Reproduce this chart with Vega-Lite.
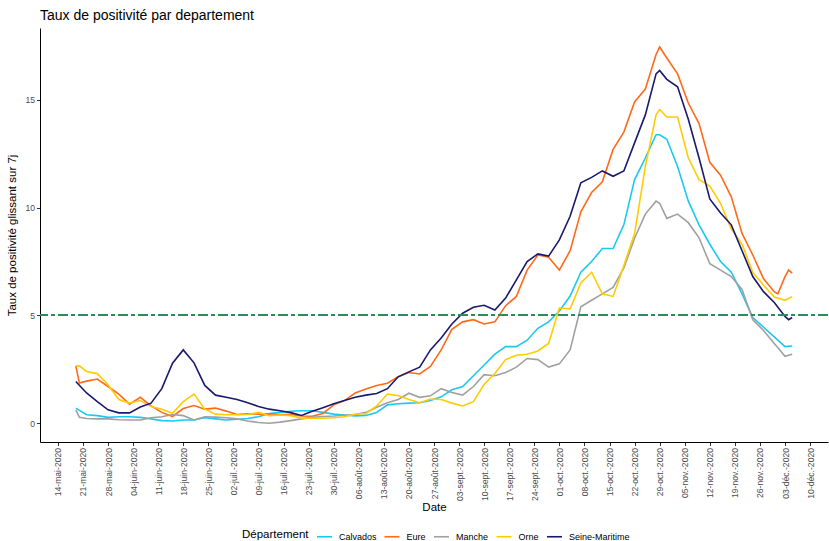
{
  "$schema": "https://vega.github.io/schema/vega-lite/v6.json",
  "width": 788,
  "height": 414,
  "autosize": "none",
  "padding": {"left": 40, "top": 28, "right": 1, "bottom": 99},
  "title": {"text": "Taux de positivité par departement", "anchor": "start", "frame": "group", "fontSize": 14, "fontWeight": "normal", "color": "#000000", "offset": 5, "font": "Liberation Sans"},
  "config": {
    "font": "Liberation Sans",
    "view": {"stroke": null},
    "locale": {"time": {
      "dateTime": "%A %e %B %Y à %X", "date": "%d/%m/%Y", "time": "%H:%M:%S", "periods": ["AM", "PM"],
      "days": ["dimanche", "lundi", "mardi", "mercredi", "jeudi", "vendredi", "samedi"],
      "shortDays": ["dim.", "lun.", "mar.", "mer.", "jeu.", "ven.", "sam."],
      "months": ["janvier", "février", "mars", "avril", "mai", "juin", "juillet", "août", "septembre", "octobre", "novembre", "décembre"],
      "shortMonths": ["janv.", "févr.", "mars", "avr.", "mai", "juin", "juil.", "août", "sept.", "oct.", "nov.", "déc."]
    }}
  },
  "data": {"values": [
    {"date":"2020-05-19","dep":"Calvados","v":0.70},{"date":"2020-05-19","dep":"Eure","v":2.66},{"date":"2020-05-19","dep":"Manche","v":0.62},{"date":"2020-05-19","dep":"Orne","v":2.66},{"date":"2020-05-19","dep":"Seine-Maritime","v":1.93},
    {"date":"2020-05-20","dep":"Eure","v":1.86},{"date":"2020-05-20","dep":"Orne","v":2.66},{"date":"2020-05-20","dep":"Manche","v":0.27},
    {"date":"2020-05-22","dep":"Calvados","v":0.39},{"date":"2020-05-22","dep":"Eure","v":1.95},{"date":"2020-05-22","dep":"Manche","v":0.22},{"date":"2020-05-22","dep":"Orne","v":2.40},{"date":"2020-05-22","dep":"Seine-Maritime","v":1.40},
    {"date":"2020-05-25","dep":"Calvados","v":0.35},{"date":"2020-05-25","dep":"Eure","v":2.05},{"date":"2020-05-25","dep":"Manche","v":0.20},{"date":"2020-05-25","dep":"Orne","v":2.30},{"date":"2020-05-25","dep":"Seine-Maritime","v":1.00},
    {"date":"2020-05-28","dep":"Calvados","v":0.27},{"date":"2020-05-28","dep":"Eure","v":1.70},{"date":"2020-05-28","dep":"Manche","v":0.20},{"date":"2020-05-28","dep":"Orne","v":1.78},{"date":"2020-05-28","dep":"Seine-Maritime","v":0.62},
    {"date":"2020-05-31","dep":"Calvados","v":0.30},{"date":"2020-05-31","dep":"Eure","v":1.35},{"date":"2020-05-31","dep":"Manche","v":0.16},{"date":"2020-05-31","dep":"Orne","v":1.10},{"date":"2020-05-31","dep":"Seine-Maritime","v":0.48},
    {"date":"2020-06-03","dep":"Calvados","v":0.30},{"date":"2020-06-03","dep":"Eure","v":0.88},{"date":"2020-06-03","dep":"Manche","v":0.15},{"date":"2020-06-03","dep":"Orne","v":0.93},{"date":"2020-06-03","dep":"Seine-Maritime","v":0.48},
    {"date":"2020-06-06","dep":"Calvados","v":0.27},{"date":"2020-06-06","dep":"Eure","v":1.20},{"date":"2020-06-06","dep":"Manche","v":0.15},{"date":"2020-06-06","dep":"Orne","v":1.05},{"date":"2020-06-06","dep":"Seine-Maritime","v":0.75},
    {"date":"2020-06-09","dep":"Calvados","v":0.20},{"date":"2020-06-09","dep":"Eure","v":0.80},{"date":"2020-06-09","dep":"Manche","v":0.25},{"date":"2020-06-09","dep":"Orne","v":0.77},{"date":"2020-06-09","dep":"Seine-Maritime","v":0.93},
    {"date":"2020-06-12","dep":"Calvados","v":0.12},{"date":"2020-06-12","dep":"Eure","v":0.50},{"date":"2020-06-12","dep":"Manche","v":0.30},{"date":"2020-06-12","dep":"Orne","v":0.65},{"date":"2020-06-12","dep":"Seine-Maritime","v":1.60},
    {"date":"2020-06-15","dep":"Calvados","v":0.10},{"date":"2020-06-15","dep":"Eure","v":0.31},{"date":"2020-06-15","dep":"Manche","v":0.40},{"date":"2020-06-15","dep":"Orne","v":0.46},{"date":"2020-06-15","dep":"Seine-Maritime","v":2.78},
    {"date":"2020-06-18","dep":"Calvados","v":0.15},{"date":"2020-06-18","dep":"Eure","v":0.68},{"date":"2020-06-18","dep":"Manche","v":0.35},{"date":"2020-06-18","dep":"Orne","v":1.00},{"date":"2020-06-18","dep":"Seine-Maritime","v":3.40},
    {"date":"2020-06-21","dep":"Calvados","v":0.15},{"date":"2020-06-21","dep":"Eure","v":0.82},{"date":"2020-06-21","dep":"Manche","v":0.15},{"date":"2020-06-21","dep":"Orne","v":1.35},{"date":"2020-06-21","dep":"Seine-Maritime","v":2.80},
    {"date":"2020-06-24","dep":"Calvados","v":0.25},{"date":"2020-06-24","dep":"Eure","v":0.65},{"date":"2020-06-24","dep":"Manche","v":0.30},{"date":"2020-06-24","dep":"Orne","v":0.65},{"date":"2020-06-24","dep":"Seine-Maritime","v":1.75},
    {"date":"2020-06-27","dep":"Calvados","v":0.20},{"date":"2020-06-27","dep":"Eure","v":0.70},{"date":"2020-06-27","dep":"Manche","v":0.28},{"date":"2020-06-27","dep":"Orne","v":0.42},{"date":"2020-06-27","dep":"Seine-Maritime","v":1.30},
    {"date":"2020-06-30","dep":"Calvados","v":0.15},{"date":"2020-06-30","dep":"Eure","v":0.56},{"date":"2020-06-30","dep":"Manche","v":0.25},{"date":"2020-06-30","dep":"Orne","v":0.39},{"date":"2020-06-30","dep":"Seine-Maritime","v":1.20},
    {"date":"2020-07-03","dep":"Calvados","v":0.18},{"date":"2020-07-03","dep":"Eure","v":0.40},{"date":"2020-07-03","dep":"Manche","v":0.20},{"date":"2020-07-03","dep":"Orne","v":0.39},{"date":"2020-07-03","dep":"Seine-Maritime","v":1.10},
    {"date":"2020-07-06","dep":"Calvados","v":0.22},{"date":"2020-07-06","dep":"Eure","v":0.43},{"date":"2020-07-06","dep":"Manche","v":0.10},{"date":"2020-07-06","dep":"Orne","v":0.40},{"date":"2020-07-06","dep":"Seine-Maritime","v":0.95},
    {"date":"2020-07-09","dep":"Calvados","v":0.30},{"date":"2020-07-09","dep":"Eure","v":0.42},{"date":"2020-07-09","dep":"Manche","v":0.03},{"date":"2020-07-09","dep":"Orne","v":0.50},{"date":"2020-07-09","dep":"Seine-Maritime","v":0.77},
    {"date":"2020-07-12","dep":"Calvados","v":0.45},{"date":"2020-07-12","dep":"Eure","v":0.43},{"date":"2020-07-12","dep":"Manche","v":0.00},{"date":"2020-07-12","dep":"Orne","v":0.35},{"date":"2020-07-12","dep":"Seine-Maritime","v":0.65},
    {"date":"2020-07-15","dep":"Calvados","v":0.50},{"date":"2020-07-15","dep":"Eure","v":0.40},{"date":"2020-07-15","dep":"Manche","v":0.05},{"date":"2020-07-15","dep":"Orne","v":0.38},{"date":"2020-07-15","dep":"Seine-Maritime","v":0.58},
    {"date":"2020-07-18","dep":"Calvados","v":0.55},{"date":"2020-07-18","dep":"Eure","v":0.40},{"date":"2020-07-18","dep":"Manche","v":0.12},{"date":"2020-07-18","dep":"Orne","v":0.35},{"date":"2020-07-18","dep":"Seine-Maritime","v":0.49},
    {"date":"2020-07-21","dep":"Calvados","v":0.58},{"date":"2020-07-21","dep":"Eure","v":0.33},{"date":"2020-07-21","dep":"Manche","v":0.20},{"date":"2020-07-21","dep":"Orne","v":0.23},{"date":"2020-07-21","dep":"Seine-Maritime","v":0.36},
    {"date":"2020-07-24","dep":"Calvados","v":0.58},{"date":"2020-07-24","dep":"Eure","v":0.32},{"date":"2020-07-24","dep":"Manche","v":0.27},{"date":"2020-07-24","dep":"Orne","v":0.23},{"date":"2020-07-24","dep":"Seine-Maritime","v":0.55},
    {"date":"2020-07-27","dep":"Calvados","v":0.50},{"date":"2020-07-27","dep":"Eure","v":0.45},{"date":"2020-07-27","dep":"Manche","v":0.31},{"date":"2020-07-27","dep":"Orne","v":0.23},{"date":"2020-07-27","dep":"Seine-Maritime","v":0.72},
    {"date":"2020-07-30","dep":"Calvados","v":0.42},{"date":"2020-07-30","dep":"Eure","v":0.85},{"date":"2020-07-30","dep":"Manche","v":0.33},{"date":"2020-07-30","dep":"Orne","v":0.25},{"date":"2020-07-30","dep":"Seine-Maritime","v":0.90},
    {"date":"2020-08-02","dep":"Calvados","v":0.38},{"date":"2020-08-02","dep":"Eure","v":1.05},{"date":"2020-08-02","dep":"Manche","v":0.37},{"date":"2020-08-02","dep":"Orne","v":0.30},{"date":"2020-08-02","dep":"Seine-Maritime","v":1.05},
    {"date":"2020-08-05","dep":"Calvados","v":0.34},{"date":"2020-08-05","dep":"Eure","v":1.40},{"date":"2020-08-05","dep":"Manche","v":0.40},{"date":"2020-08-05","dep":"Orne","v":0.42},{"date":"2020-08-05","dep":"Seine-Maritime","v":1.20},
    {"date":"2020-08-08","dep":"Calvados","v":0.36},{"date":"2020-08-08","dep":"Eure","v":1.58},{"date":"2020-08-08","dep":"Manche","v":0.50},{"date":"2020-08-08","dep":"Orne","v":0.45},{"date":"2020-08-08","dep":"Seine-Maritime","v":1.30},
    {"date":"2020-08-11","dep":"Calvados","v":0.50},{"date":"2020-08-11","dep":"Eure","v":1.75},{"date":"2020-08-11","dep":"Manche","v":0.74},{"date":"2020-08-11","dep":"Orne","v":0.80},{"date":"2020-08-11","dep":"Seine-Maritime","v":1.38},
    {"date":"2020-08-14","dep":"Calvados","v":0.85},{"date":"2020-08-14","dep":"Eure","v":1.85},{"date":"2020-08-14","dep":"Manche","v":0.95},{"date":"2020-08-14","dep":"Orne","v":1.35},{"date":"2020-08-14","dep":"Seine-Maritime","v":1.60},
    {"date":"2020-08-17","dep":"Calvados","v":0.90},{"date":"2020-08-17","dep":"Eure","v":2.15},{"date":"2020-08-17","dep":"Manche","v":1.10},{"date":"2020-08-17","dep":"Orne","v":1.28},{"date":"2020-08-17","dep":"Seine-Maritime","v":2.15},
    {"date":"2020-08-20","dep":"Calvados","v":0.93},{"date":"2020-08-20","dep":"Eure","v":2.35},{"date":"2020-08-20","dep":"Manche","v":1.39},{"date":"2020-08-20","dep":"Orne","v":1.10},{"date":"2020-08-20","dep":"Seine-Maritime","v":2.38},
    {"date":"2020-08-23","dep":"Calvados","v":0.95},{"date":"2020-08-23","dep":"Eure","v":2.28},{"date":"2020-08-23","dep":"Manche","v":1.20},{"date":"2020-08-23","dep":"Orne","v":0.95},{"date":"2020-08-23","dep":"Seine-Maritime","v":2.60},
    {"date":"2020-08-26","dep":"Calvados","v":1.05},{"date":"2020-08-26","dep":"Eure","v":2.63},{"date":"2020-08-26","dep":"Manche","v":1.27},{"date":"2020-08-26","dep":"Orne","v":1.12},{"date":"2020-08-26","dep":"Seine-Maritime","v":3.40},
    {"date":"2020-08-29","dep":"Calvados","v":1.22},{"date":"2020-08-29","dep":"Eure","v":3.40},{"date":"2020-08-29","dep":"Manche","v":1.60},{"date":"2020-08-29","dep":"Orne","v":1.10},{"date":"2020-08-29","dep":"Seine-Maritime","v":3.95},
    {"date":"2020-09-01","dep":"Calvados","v":1.55},{"date":"2020-09-01","dep":"Eure","v":4.35},{"date":"2020-09-01","dep":"Manche","v":1.42},{"date":"2020-09-01","dep":"Orne","v":0.93},{"date":"2020-09-01","dep":"Seine-Maritime","v":4.60},
    {"date":"2020-09-04","dep":"Calvados","v":1.70},{"date":"2020-09-04","dep":"Eure","v":4.70},{"date":"2020-09-04","dep":"Manche","v":1.30},{"date":"2020-09-04","dep":"Orne","v":0.80},{"date":"2020-09-04","dep":"Seine-Maritime","v":5.10},
    {"date":"2020-09-07","dep":"Calvados","v":2.20},{"date":"2020-09-07","dep":"Eure","v":4.80},{"date":"2020-09-07","dep":"Manche","v":1.70},{"date":"2020-09-07","dep":"Orne","v":1.00},{"date":"2020-09-07","dep":"Seine-Maritime","v":5.38},
    {"date":"2020-09-10","dep":"Calvados","v":2.70},{"date":"2020-09-10","dep":"Eure","v":4.60},{"date":"2020-09-10","dep":"Manche","v":2.25},{"date":"2020-09-10","dep":"Orne","v":1.80},{"date":"2020-09-10","dep":"Seine-Maritime","v":5.47},
    {"date":"2020-09-13","dep":"Calvados","v":3.20},{"date":"2020-09-13","dep":"Eure","v":4.70},{"date":"2020-09-13","dep":"Manche","v":2.20},{"date":"2020-09-13","dep":"Orne","v":2.30},{"date":"2020-09-13","dep":"Seine-Maritime","v":5.25},
    {"date":"2020-09-16","dep":"Calvados","v":3.55},{"date":"2020-09-16","dep":"Eure","v":5.45},{"date":"2020-09-16","dep":"Manche","v":2.35},{"date":"2020-09-16","dep":"Orne","v":2.95},{"date":"2020-09-16","dep":"Seine-Maritime","v":5.80},
    {"date":"2020-09-19","dep":"Calvados","v":3.55},{"date":"2020-09-19","dep":"Eure","v":5.88},{"date":"2020-09-19","dep":"Manche","v":2.60},{"date":"2020-09-19","dep":"Orne","v":3.15},{"date":"2020-09-19","dep":"Seine-Maritime","v":6.65},
    {"date":"2020-09-22","dep":"Calvados","v":3.85},{"date":"2020-09-22","dep":"Eure","v":7.10},{"date":"2020-09-22","dep":"Manche","v":3.00},{"date":"2020-09-22","dep":"Orne","v":3.20},{"date":"2020-09-22","dep":"Seine-Maritime","v":7.50},
    {"date":"2020-09-25","dep":"Calvados","v":4.40},{"date":"2020-09-25","dep":"Eure","v":7.80},{"date":"2020-09-25","dep":"Manche","v":2.95},{"date":"2020-09-25","dep":"Orne","v":3.35},{"date":"2020-09-25","dep":"Seine-Maritime","v":7.85},
    {"date":"2020-09-28","dep":"Calvados","v":4.70},{"date":"2020-09-28","dep":"Eure","v":7.70},{"date":"2020-09-28","dep":"Manche","v":2.60},{"date":"2020-09-28","dep":"Orne","v":3.70},{"date":"2020-09-28","dep":"Seine-Maritime","v":7.75},
    {"date":"2020-10-01","dep":"Calvados","v":5.20},{"date":"2020-10-01","dep":"Eure","v":7.10},{"date":"2020-10-01","dep":"Manche","v":2.75},{"date":"2020-10-01","dep":"Orne","v":5.34},{"date":"2020-10-01","dep":"Seine-Maritime","v":8.50},
    {"date":"2020-10-04","dep":"Calvados","v":5.90},{"date":"2020-10-04","dep":"Eure","v":8.00},{"date":"2020-10-04","dep":"Manche","v":3.40},{"date":"2020-10-04","dep":"Orne","v":5.30},{"date":"2020-10-04","dep":"Seine-Maritime","v":9.60},
    {"date":"2020-10-07","dep":"Calvados","v":7.00},{"date":"2020-10-07","dep":"Eure","v":9.80},{"date":"2020-10-07","dep":"Manche","v":5.40},{"date":"2020-10-07","dep":"Orne","v":6.50},{"date":"2020-10-07","dep":"Seine-Maritime","v":11.15},
    {"date":"2020-10-10","dep":"Calvados","v":7.50},{"date":"2020-10-10","dep":"Eure","v":10.70},{"date":"2020-10-10","dep":"Manche","v":5.70},{"date":"2020-10-10","dep":"Orne","v":7.00},{"date":"2020-10-10","dep":"Seine-Maritime","v":11.40},
    {"date":"2020-10-13","dep":"Calvados","v":8.10},{"date":"2020-10-13","dep":"Eure","v":11.20},{"date":"2020-10-13","dep":"Manche","v":6.00},{"date":"2020-10-13","dep":"Orne","v":6.00},{"date":"2020-10-13","dep":"Seine-Maritime","v":11.70},
    {"date":"2020-10-16","dep":"Calvados","v":8.10},{"date":"2020-10-16","dep":"Eure","v":12.70},{"date":"2020-10-16","dep":"Manche","v":6.30},{"date":"2020-10-16","dep":"Orne","v":5.88},{"date":"2020-10-16","dep":"Seine-Maritime","v":11.45},
    {"date":"2020-10-19","dep":"Calvados","v":9.20},{"date":"2020-10-19","dep":"Eure","v":13.50},{"date":"2020-10-19","dep":"Manche","v":7.20},{"date":"2020-10-19","dep":"Orne","v":7.30},{"date":"2020-10-19","dep":"Seine-Maritime","v":11.70},
    {"date":"2020-10-22","dep":"Calvados","v":11.30},{"date":"2020-10-22","dep":"Eure","v":14.90},{"date":"2020-10-22","dep":"Manche","v":8.58},{"date":"2020-10-22","dep":"Orne","v":8.80},{"date":"2020-10-22","dep":"Seine-Maritime","v":13.00},
    {"date":"2020-10-25","dep":"Calvados","v":12.30},{"date":"2020-10-25","dep":"Eure","v":15.50},{"date":"2020-10-25","dep":"Manche","v":9.70},{"date":"2020-10-25","dep":"Orne","v":11.90},{"date":"2020-10-25","dep":"Seine-Maritime","v":14.30},
    {"date":"2020-10-28","dep":"Calvados","v":13.38},{"date":"2020-10-28","dep":"Eure","v":17.10},{"date":"2020-10-28","dep":"Manche","v":10.30},{"date":"2020-10-28","dep":"Orne","v":14.30},{"date":"2020-10-28","dep":"Seine-Maritime","v":16.20},
    {"date":"2020-10-29","dep":"Calvados","v":13.38},{"date":"2020-10-29","dep":"Eure","v":17.45},{"date":"2020-10-29","dep":"Manche","v":10.20},{"date":"2020-10-29","dep":"Orne","v":14.55},{"date":"2020-10-29","dep":"Seine-Maritime","v":16.36},
    {"date":"2020-10-31","dep":"Calvados","v":13.17},{"date":"2020-10-31","dep":"Eure","v":16.94},{"date":"2020-10-31","dep":"Manche","v":9.50},{"date":"2020-10-31","dep":"Orne","v":14.20},{"date":"2020-10-31","dep":"Seine-Maritime","v":15.95},
    {"date":"2020-11-03","dep":"Calvados","v":11.91},{"date":"2020-11-03","dep":"Eure","v":16.20},{"date":"2020-11-03","dep":"Manche","v":9.70},{"date":"2020-11-03","dep":"Orne","v":14.20},{"date":"2020-11-03","dep":"Seine-Maritime","v":15.60},
    {"date":"2020-11-06","dep":"Calvados","v":10.30},{"date":"2020-11-06","dep":"Eure","v":14.85},{"date":"2020-11-06","dep":"Manche","v":9.30},{"date":"2020-11-06","dep":"Orne","v":12.30},{"date":"2020-11-06","dep":"Seine-Maritime","v":14.10},
    {"date":"2020-11-09","dep":"Calvados","v":9.20},{"date":"2020-11-09","dep":"Eure","v":13.90},{"date":"2020-11-09","dep":"Manche","v":8.60},{"date":"2020-11-09","dep":"Orne","v":11.30},{"date":"2020-11-09","dep":"Seine-Maritime","v":12.30},
    {"date":"2020-11-12","dep":"Calvados","v":8.30},{"date":"2020-11-12","dep":"Eure","v":12.10},{"date":"2020-11-12","dep":"Manche","v":7.40},{"date":"2020-11-12","dep":"Orne","v":11.00},{"date":"2020-11-12","dep":"Seine-Maritime","v":10.40},
    {"date":"2020-11-15","dep":"Calvados","v":7.50},{"date":"2020-11-15","dep":"Eure","v":11.50},{"date":"2020-11-15","dep":"Manche","v":7.10},{"date":"2020-11-15","dep":"Orne","v":10.20},{"date":"2020-11-15","dep":"Seine-Maritime","v":9.75},
    {"date":"2020-11-18","dep":"Calvados","v":7.00},{"date":"2020-11-18","dep":"Eure","v":10.50},{"date":"2020-11-18","dep":"Manche","v":6.80},{"date":"2020-11-18","dep":"Orne","v":9.00},{"date":"2020-11-18","dep":"Seine-Maritime","v":9.20},
    {"date":"2020-11-21","dep":"Calvados","v":6.00},{"date":"2020-11-21","dep":"Eure","v":8.80},{"date":"2020-11-21","dep":"Manche","v":6.20},{"date":"2020-11-21","dep":"Orne","v":8.30},{"date":"2020-11-21","dep":"Seine-Maritime","v":8.00},
    {"date":"2020-11-24","dep":"Calvados","v":4.90},{"date":"2020-11-24","dep":"Eure","v":7.80},{"date":"2020-11-24","dep":"Manche","v":4.80},{"date":"2020-11-24","dep":"Orne","v":7.00},{"date":"2020-11-24","dep":"Seine-Maritime","v":6.80},
    {"date":"2020-11-27","dep":"Calvados","v":4.45},{"date":"2020-11-27","dep":"Eure","v":6.70},{"date":"2020-11-27","dep":"Manche","v":4.30},{"date":"2020-11-27","dep":"Orne","v":6.40},{"date":"2020-11-27","dep":"Seine-Maritime","v":6.10},
    {"date":"2020-11-30","dep":"Calvados","v":4.00},{"date":"2020-11-30","dep":"Eure","v":6.10},{"date":"2020-11-30","dep":"Manche","v":3.70},{"date":"2020-11-30","dep":"Orne","v":5.85},{"date":"2020-11-30","dep":"Seine-Maritime","v":5.60},
    {"date":"2020-12-01","dep":"Eure","v":6.00},
    {"date":"2020-12-03","dep":"Calvados","v":3.55},{"date":"2020-12-03","dep":"Eure","v":6.80},{"date":"2020-12-03","dep":"Manche","v":3.10},{"date":"2020-12-03","dep":"Orne","v":5.70},{"date":"2020-12-03","dep":"Seine-Maritime","v":4.95},
    {"date":"2020-12-04","dep":"Eure","v":7.10},{"date":"2020-12-04","dep":"Seine-Maritime","v":4.80},
    {"date":"2020-12-05","dep":"Calvados","v":3.58},{"date":"2020-12-05","dep":"Eure","v":6.96},{"date":"2020-12-05","dep":"Manche","v":3.20},{"date":"2020-12-05","dep":"Orne","v":5.87},{"date":"2020-12-05","dep":"Seine-Maritime","v":4.90}
  ]},
  "layer": [
    {
      "mark": {"type": "line", "strokeWidth": 1.6, "clip": true},
      "encoding": {
        "x": {
          "field": "date", "type": "temporal",
          "scale": {"type": "utc", "domain": [{"year": 2020, "month": 5, "date": 9, "utc": true}, {"year": 2020, "month": 12, "date": 15, "utc": true}], "nice": false},
          "axis": {
            "title": "Date", "labelExpr": "utcFormat(datum.value, '%d-%b-%Y')", "labelAngle": -90,
            "values": [
              {"year":2020,"month":5,"date":14,"utc":true},{"year":2020,"month":5,"date":21,"utc":true},{"year":2020,"month":5,"date":28,"utc":true},
              {"year":2020,"month":6,"date":4,"utc":true},{"year":2020,"month":6,"date":11,"utc":true},{"year":2020,"month":6,"date":18,"utc":true},{"year":2020,"month":6,"date":25,"utc":true},
              {"year":2020,"month":7,"date":2,"utc":true},{"year":2020,"month":7,"date":9,"utc":true},{"year":2020,"month":7,"date":16,"utc":true},{"year":2020,"month":7,"date":23,"utc":true},{"year":2020,"month":7,"date":30,"utc":true},
              {"year":2020,"month":8,"date":6,"utc":true},{"year":2020,"month":8,"date":13,"utc":true},{"year":2020,"month":8,"date":20,"utc":true},{"year":2020,"month":8,"date":27,"utc":true},
              {"year":2020,"month":9,"date":3,"utc":true},{"year":2020,"month":9,"date":10,"utc":true},{"year":2020,"month":9,"date":17,"utc":true},{"year":2020,"month":9,"date":24,"utc":true},
              {"year":2020,"month":10,"date":1,"utc":true},{"year":2020,"month":10,"date":8,"utc":true},{"year":2020,"month":10,"date":15,"utc":true},{"year":2020,"month":10,"date":22,"utc":true},{"year":2020,"month":10,"date":29,"utc":true},
              {"year":2020,"month":11,"date":5,"utc":true},{"year":2020,"month":11,"date":12,"utc":true},{"year":2020,"month":11,"date":19,"utc":true},{"year":2020,"month":11,"date":26,"utc":true},
              {"year":2020,"month":12,"date":3,"utc":true},{"year":2020,"month":12,"date":10,"utc":true}
            ],
            "grid": false, "domainColor": "#000000", "domainWidth": 1, "tickColor": "#333333", "tickSize": 3.5, "tickWidth": 1,
            "labelFontSize": 8.6, "labelColor": "#4D4D4D", "labelPadding": 2, "labelFont": "Liberation Sans", "labelOverlap": false, "labelBound": false, "labelFlush": false,
            "titleFontSize": 11.5, "titleFontWeight": "normal", "titleColor": "#000000", "titlePadding": 1, "titleFont": "Liberation Sans"
          }
        },
        "y": {
          "field": "v", "type": "quantitative",
          "scale": {"domain": [-0.873, 18.33], "nice": false, "zero": false},
          "axis": {
            "title": "Taux de positivité glissant sur 7j", "values": [0, 5, 10, 15],
            "grid": false, "domainColor": "#000000", "domainWidth": 1, "tickColor": "#333333", "tickSize": 3.5, "tickWidth": 1,
            "labelFontSize": 8.6, "labelColor": "#4D4D4D", "labelPadding": 2, "labelFont": "Liberation Sans",
            "titleFontSize": 11.5, "titleFontWeight": "normal", "titleColor": "#000000", "titlePadding": 7, "titleFont": "Liberation Sans"
          }
        },
        "color": {
          "field": "dep", "type": "nominal",
          "scale": {"domain": ["Calvados", "Eure", "Manche", "Orne", "Seine-Maritime"], "range": ["#1CC8F2", "#FF6A1A", "#A0A0A0", "#FFCC00", "#191970"]},
          "legend": {
            "title": "Département", "orient": "none", "direction": "horizontal", "legendX": 202, "legendY": 500,
            "titleOrient": "left", "titleAnchor": "middle", "titleFontSize": 11.5, "titleFontWeight": "normal", "titleColor": "#000000", "titlePadding": 7, "titleFont": "Liberation Sans", "titleBaseline": "middle",
            "labelFontSize": 9, "labelColor": "#000000", "labelFont": "Liberation Sans", "labelOffset": 6,
            "symbolType": "stroke", "symbolSize": 225, "symbolStrokeWidth": 1.6, "columnPadding": 3.5
          }
        }
      }
    },
    {
      "mark": {"type": "rule", "color": "#2E8B57", "strokeWidth": 1.2, "strokeDash": [10, 3.4, 3.2, 3.4]},
      "encoding": {"y": {"datum": 5}}
    }
  ]
}
